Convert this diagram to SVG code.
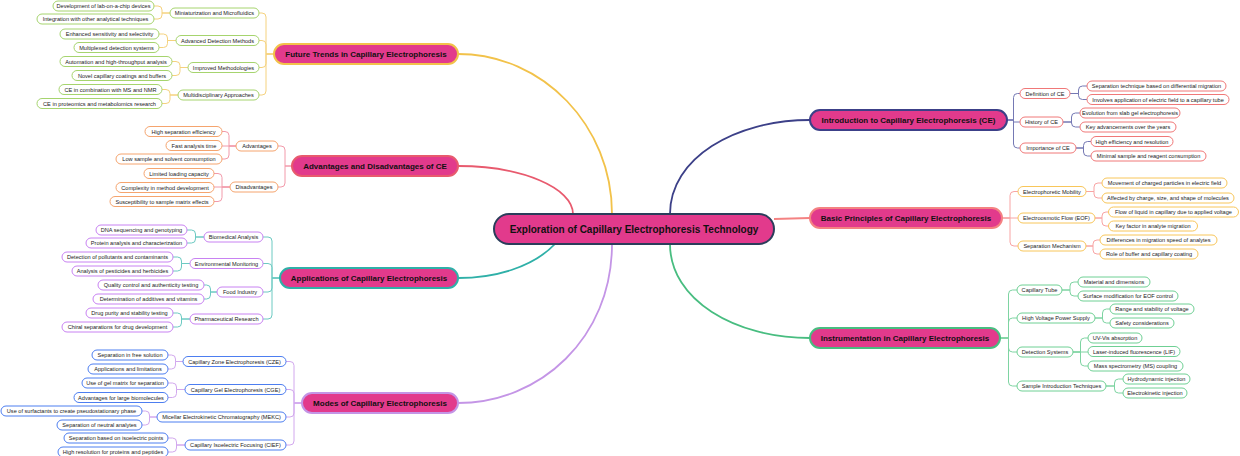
<svg xmlns="http://www.w3.org/2000/svg" width="1240" height="456" viewBox="0 0 1240 456">
<style>
text{font-family:"Liberation Sans",Arial,sans-serif;text-anchor:middle;fill:#222}
.s text{font-size:5.6px}
.s rect{fill:#fff;stroke-width:1}
.m rect{fill:#e23a8c;stroke-width:2}
.m text{font-size:8px;font-weight:bold;fill:#111}
.c rect{fill:#e23a8c;stroke:#2b3d5b;stroke-width:2}
.c text{font-size:10px;font-weight:bold;fill:#111}
.ft rect{stroke:#a6d46e}
.ad rect{stroke:#f5a46e}
.ap rect{stroke:#c882f2}
.mo rect{stroke:#4d7ef0}
.in rect{stroke:#f07878}
.bp rect{stroke:#f8c65a}
.is rect{stroke:#6fd094}
path{fill:none}
.k1{stroke-width:1.8}
.k2{stroke-width:1}
</style>
<g id="connectors">
<path class="k1" stroke="#f2c24a" d="M612,214 C612,126 543,54 458,54"/>
<path class="k1" stroke="#e85a6e" d="M573,214 C573,188 522,166 458,166"/>
<path class="k1" stroke="#2fb0a8" d="M555,244 C532,268 494,278 458,278"/>
<path class="k1" stroke="#c495e6" d="M612,244 C612,338 540,403 458,403"/>
<path class="k1" stroke="#3c4088" d="M670,214 C670,158 735,120 810,120"/>
<path class="k1" stroke="#f48282" d="M774,219 L810,218"/>
<path class="k1" stroke="#48bd80" d="M670,244 C670,300 735,338 810,338"/>
<g stroke="#f5d27e" class="k2">
<path d="M274,54 H266 V17 Q266,13 262,13 H259"/>
<path d="M274,54 H266 V44.5 Q266,40.5 262,40.5 H259"/>
<path d="M274,54 H266 V63.5 Q266,67.5 262,67.5 H259"/>
<path d="M274,54 H266 V91 Q266,95 262,95 H259"/>
<path d="M170,13 H162 V10 Q162,6 158,6 H154"/>
<path d="M170,13 H162 V15 Q162,19 158,19 H154"/>
<path d="M176,40.5 H167.5 V38 Q167.5,34 163.5,34 H159"/>
<path d="M176,40.5 H167.5 V43.5 Q167.5,47.5 163.5,47.5 H159"/>
<path d="M188,67.5 H180 V65.5 Q180,61.5 176,61.5 H172"/>
<path d="M188,67.5 H180 V71.5 Q180,75.5 176,75.5 H172"/>
<path d="M178,95 H170 V93.5 Q170,89.5 166,89.5 H162"/>
<path d="M178,95 H170 V99.5 Q170,103.5 166,103.5 H162"/>
</g>
<g stroke="#f29aaa" class="k2">
<path d="M292,166 H285 V150 Q285,146 281,146 H278"/>
<path d="M292,166 H285 V183 Q285,187 281,187 H278"/>
<path d="M236,146 H229 V135.5 Q229,131.5 225,131.5 H222"/>
<path d="M236,146 H222"/>
<path d="M236,146 H229 V155 Q229,159 225,159 H222"/>
<path d="M230,187 H222 V177.5 Q222,173.5 218,173.5 H214"/>
<path d="M230,187 H214"/>
<path d="M230,187 H222 V197.5 Q222,201.5 218,201.5 H214"/>
</g>
<g stroke="#6ccac2" class="k2">
<path d="M280,278 H272 V241 Q272,237 268,237 H263"/>
<path d="M280,278 H272 V267.5 Q272,263.5 268,263.5 H263"/>
<path d="M280,278 H272 V288 Q272,292 268,292 H263"/>
<path d="M280,278 H272 V315 Q272,319 268,319 H263"/>
<path d="M204,237 H195.5 V234 Q195.5,230 191.5,230 H187"/>
<path d="M204,237 H195.5 V239 Q195.5,243 191.5,243 H187"/>
<path d="M190,263.5 H181.5 V261 Q181.5,257 177.5,257 H173"/>
<path d="M190,263.5 H181.5 V267 Q181.5,271 177.5,271 H173"/>
<path d="M217,292 H210.5 V289 Q210.5,285 206.5,285 H204"/>
<path d="M217,292 H210.5 V295 Q210.5,299 206.5,299 H204"/>
<path d="M190,319 H181.5 V317 Q181.5,313 177.5,313 H173"/>
<path d="M190,319 H181.5 V323 Q181.5,327 177.5,327 H173"/>
</g>
<g stroke="#d2a8ee" class="k2">
<path d="M302,403 H294 V365.5 Q294,361.5 290,361.5 H286"/>
<path d="M302,403 H294 V393.5 Q294,389.5 290,389.5 H286"/>
<path d="M302,403 H294 V413 Q294,417 290,417 H286"/>
<path d="M302,403 H294 V441 Q294,445 290,445 H286"/>
<path d="M183,361.5 H175.5 V359 Q175.5,355 171.5,355 H168"/>
<path d="M183,361.5 H175.5 V365 Q175.5,369 171.5,369 H168"/>
<path d="M185,389.5 H176.5 V387 Q176.5,383 172.5,383 H168"/>
<path d="M185,389.5 H176.5 V393.5 Q176.5,397.5 172.5,397.5 H168"/>
<path d="M157,417 H149.5 V415 Q149.5,411 145.5,411 H142"/>
<path d="M157,417 H149.5 V421 Q149.5,425 145.5,425 H142"/>
<path d="M185,445 H176.5 V442 Q176.5,438 172.5,438 H168"/>
<path d="M185,445 H176.5 V448 Q176.5,452 172.5,452 H168"/>
</g>
<g stroke="#7579b4" class="k2">
<path d="M1007,120 H1013.5 V97.5 Q1013.5,93.5 1017.5,93.5 H1020"/>
<path d="M1007,120 H1013.5 V122 H1020"/>
<path d="M1007,120 H1013.5 V144 Q1013.5,148 1017.5,148 H1020"/>
<path d="M1070,93.5 H1078.5 V90 Q1078.5,86 1082.5,86 H1087"/>
<path d="M1070,93.5 H1078.5 V95.5 Q1078.5,99.5 1082.5,99.5 H1087"/>
<path d="M1063,122 H1071.5 V117 Q1071.5,113 1075.5,113 H1080"/>
<path d="M1063,122 H1071.5 V123 Q1071.5,127 1075.5,127 H1080"/>
<path d="M1076,148 H1083.5 V145.5 Q1083.5,141.5 1087.5,141.5 H1091"/>
<path d="M1076,148 H1083.5 V152 Q1083.5,156 1087.5,156 H1091"/>
</g>
<g stroke="#f8a4a4" class="k2">
<path d="M1002,218 H1010 V195.5 Q1010,191.5 1014,191.5 H1018"/>
<path d="M1002,218 H1018"/>
<path d="M1002,218 H1010 V242 Q1010,246 1014,246 H1018"/>
<path d="M1086,191.5 H1094 V187 Q1094,183 1098,183 H1102"/>
<path d="M1086,191.5 H1094 V194 Q1094,198 1098,198 H1102"/>
<path d="M1095,218 H1102 V216 Q1102,212 1106,212 H1108.5"/>
<path d="M1095,218 H1102 V222 Q1102,226 1106,226 H1108.5"/>
<path d="M1086,246 H1093 V244 Q1093,240 1097,240 H1100"/>
<path d="M1086,246 H1093 V250 Q1093,254 1097,254 H1100"/>
</g>
<g stroke="#7ed4a2" class="k2">
<path d="M1000,338 H1008.5 V294 Q1008.5,290 1012.5,290 H1017"/>
<path d="M1000,338 H1008.5 V322 Q1008.5,318 1012.5,318 H1017"/>
<path d="M1000,338 H1008.5 V348 Q1008.5,352 1012.5,352 H1017"/>
<path d="M1000,338 H1008.5 V382 Q1008.5,386 1012.5,386 H1017"/>
<path d="M1062,290 H1070 V286 Q1070,282 1074,282 H1078"/>
<path d="M1062,290 H1070 V292 Q1070,296 1074,296 H1078"/>
<path d="M1095,318 H1102.5 V313 Q1102.5,309 1106.5,309 H1110"/>
<path d="M1095,318 H1102.5 V319 Q1102.5,323 1106.5,323 H1110"/>
<path d="M1073,352 H1080.5 V342 Q1080.5,338 1084.5,338 H1088"/>
<path d="M1073,352 H1088"/>
<path d="M1073,352 H1080.5 V362 Q1080.5,366 1084.5,366 H1088"/>
<path d="M1106,386 H1114.5 V383 Q1114.5,379 1118.5,379 H1123"/>
<path d="M1106,386 H1114.5 V389 Q1114.5,393 1118.5,393 H1123"/>
</g>
</g>

<g id="root" class="c"><rect x="494" y="214" width="280" height="30" rx="15"/><text x="634" y="232.5">Exploration of Capillary Electrophoresis Technology</text></g>

<g id="future" class="m"><rect x="274" y="44" width="184" height="20" rx="10" stroke="#f2c24a"/><text x="366" y="56.8">Future Trends in Capillary Electrophoresis</text></g>
<g id="advdis" class="m"><rect x="292" y="156" width="166" height="20" rx="10" stroke="#e85a6e"/><text x="375" y="168.8">Advantages and Disadvantages of CE</text></g>
<g id="apps" class="m"><rect x="280" y="268" width="178" height="20" rx="10" stroke="#2fb0a8"/><text x="369" y="280.8">Applications of Capillary Electrophoresis</text></g>
<g id="modes" class="m"><rect x="302" y="393" width="156" height="20" rx="10" stroke="#c495e6"/><text x="380" y="405.8">Modes of Capillary Electrophoresis</text></g>
<g id="intro" class="m"><rect x="810" y="110" width="197" height="20" rx="10" stroke="#3c4088"/><text x="908.5" y="122.8">Introduction to Capillary Electrophoresis (CE)</text></g>
<g id="basic" class="m"><rect x="810" y="208" width="192" height="20" rx="10" stroke="#f48282"/><text x="906" y="220.8">Basic Principles of Capillary Electrophoresis</text></g>
<g id="instr" class="m"><rect x="810" y="328" width="190" height="20" rx="10" stroke="#48bd80"/><text x="905" y="340.8">Instrumentation in Capillary Electrophoresis</text></g>

<g class="s ft">
<g id="ft1"><rect x="170" y="8" width="89" height="10" rx="5"/><text x="214.5" y="15">Miniaturization and Microfluidics</text></g>
<g id="ft2"><rect x="176" y="35.5" width="83" height="10" rx="5"/><text x="217.5" y="42.5">Advanced Detection Methods</text></g>
<g id="ft3"><rect x="188" y="62.5" width="71" height="10" rx="5"/><text x="223.5" y="69.5">Improved Methodologies</text></g>
<g id="ft4"><rect x="178" y="90" width="81" height="10" rx="5"/><text x="218.5" y="97">Multidisciplinary Approaches</text></g>
<g id="ft1a"><rect x="53" y="1" width="101" height="10" rx="5"/><text x="103.5" y="8">Development of lab-on-a-chip devices</text></g>
<g id="ft1b"><rect x="37" y="14" width="117" height="10" rx="5"/><text x="95.5" y="21">Integration with other analytical techniques</text></g>
<g id="ft2a"><rect x="60" y="29" width="99" height="10" rx="5"/><text x="109.5" y="36">Enhanced sensitivity and selectivity</text></g>
<g id="ft2b"><rect x="74" y="42.5" width="85" height="10" rx="5"/><text x="116.5" y="49.5">Multiplexed detection systems</text></g>
<g id="ft3a"><rect x="60" y="56.5" width="112" height="10" rx="5"/><text x="116" y="63.5">Automation and high-throughput analysis</text></g>
<g id="ft3b"><rect x="72" y="70.5" width="100" height="10" rx="5"/><text x="122" y="77.5">Novel capillary coatings and buffers</text></g>
<g id="ft4a"><rect x="59" y="84.5" width="103" height="10" rx="5"/><text x="110.5" y="91.5">CE in combination with MS and NMR</text></g>
<g id="ft4b"><rect x="37" y="98.5" width="125" height="10" rx="5"/><text x="99.5" y="105.5">CE in proteomics and metabolomics research</text></g>
</g>

<g class="s ad">
<g id="ad1"><rect x="236" y="141" width="42" height="10" rx="5"/><text x="257" y="148">Advantages</text></g>
<g id="ad2"><rect x="230" y="182" width="48" height="10" rx="5"/><text x="254" y="189">Disadvantages</text></g>
<g id="ad1a"><rect x="145" y="126.5" width="77" height="10" rx="5"/><text x="183.5" y="133.5">High separation efficiency</text></g>
<g id="ad1b"><rect x="166" y="140.5" width="56" height="10" rx="5"/><text x="194" y="147.5">Fast analysis time</text></g>
<g id="ad1c"><rect x="116" y="154" width="106" height="10" rx="5"/><text x="169" y="161">Low sample and solvent consumption</text></g>
<g id="ad2a"><rect x="144" y="168.5" width="70" height="10" rx="5"/><text x="179" y="175.5">Limited loading capacity</text></g>
<g id="ad2b"><rect x="116" y="182.5" width="98" height="10" rx="5"/><text x="165" y="189.5">Complexity in method development</text></g>
<g id="ad2c"><rect x="110" y="196.5" width="104" height="10" rx="5"/><text x="162" y="203.5">Susceptibility to sample matrix effects</text></g>
</g>

<g class="s ap">
<g id="ap1"><rect x="204" y="232" width="59" height="10" rx="5"/><text x="233.5" y="239">Biomedical Analysis</text></g>
<g id="ap2"><rect x="190" y="258.5" width="73" height="10" rx="5"/><text x="226.5" y="265.5">Environmental Monitoring</text></g>
<g id="ap3"><rect x="217" y="287" width="46" height="10" rx="5"/><text x="240" y="294">Food Industry</text></g>
<g id="ap4"><rect x="190" y="314" width="73" height="10" rx="5"/><text x="226.5" y="321">Pharmaceutical Research</text></g>
<g id="ap1a"><rect x="96" y="225" width="91" height="10" rx="5"/><text x="141.5" y="232">DNA sequencing and genotyping</text></g>
<g id="ap1b"><rect x="86" y="238" width="101" height="10" rx="5"/><text x="136.5" y="245">Protein analysis and characterization</text></g>
<g id="ap2a"><rect x="62" y="252" width="111" height="10" rx="5"/><text x="117.5" y="259">Detection of pollutants and contaminants</text></g>
<g id="ap2b"><rect x="72" y="266" width="101" height="10" rx="5"/><text x="122.5" y="273">Analysis of pesticides and herbicides</text></g>
<g id="ap3a"><rect x="98" y="280" width="106" height="10" rx="5"/><text x="151" y="287">Quality control and authenticity testing</text></g>
<g id="ap3b"><rect x="93" y="294" width="111" height="10" rx="5"/><text x="148.5" y="301">Determination of additives and vitamins</text></g>
<g id="ap4a"><rect x="86" y="308" width="87" height="10" rx="5"/><text x="129.5" y="315">Drug purity and stability testing</text></g>
<g id="ap4b"><rect x="62" y="322" width="111" height="10" rx="5"/><text x="117.5" y="329">Chiral separations for drug development</text></g>
</g>

<g class="s mo">
<g id="mo1"><rect x="183" y="356.5" width="103" height="10" rx="5"/><text x="234.5" y="363.5">Capillary Zone Electrophoresis (CZE)</text></g>
<g id="mo2"><rect x="185" y="384.5" width="101" height="10" rx="5"/><text x="235.5" y="391.5">Capillary Gel Electrophoresis (CGE)</text></g>
<g id="mo3"><rect x="157" y="412" width="129" height="10" rx="5"/><text x="221.5" y="419">Micellar Electrokinetic Chromatography (MEKC)</text></g>
<g id="mo4"><rect x="185" y="440" width="101" height="10" rx="5"/><text x="235.5" y="447">Capillary Isoelectric Focusing (CIEF)</text></g>
<g id="mo1a"><rect x="92" y="350" width="76" height="10" rx="5"/><text x="130" y="357">Separation in free solution</text></g>
<g id="mo1b"><rect x="88" y="364" width="80" height="10" rx="5"/><text x="128" y="371">Applications and limitations</text></g>
<g id="mo2a"><rect x="82" y="378" width="86" height="10" rx="5"/><text x="125" y="385">Use of gel matrix for separation</text></g>
<g id="mo2b"><rect x="74" y="392.5" width="94" height="10" rx="5"/><text x="121" y="399.5">Advantages for large biomolecules</text></g>
<g id="mo3a"><rect x="1" y="406" width="141" height="10" rx="5"/><text x="71.5" y="413">Use of surfactants to create pseudostationary phase</text></g>
<g id="mo3b"><rect x="57" y="420" width="85" height="10" rx="5"/><text x="99.5" y="427">Separation of neutral analytes</text></g>
<g id="mo4a"><rect x="64" y="433" width="104" height="10" rx="5"/><text x="116" y="440">Separation based on isoelectric points</text></g>
<g id="mo4b"><rect x="58" y="447" width="110" height="10" rx="5"/><text x="113" y="454">High resolution for proteins and peptides</text></g>
</g>

<g class="s in">
<g id="in1"><rect x="1020" y="88.5" width="50" height="10" rx="5"/><text x="1045" y="95.5">Definition of CE</text></g>
<g id="in2"><rect x="1020" y="117" width="43" height="10" rx="5"/><text x="1041.5" y="124">History of CE</text></g>
<g id="in3"><rect x="1020" y="143" width="56" height="10" rx="5"/><text x="1048" y="150">Importance of CE</text></g>
<g id="in1a"><rect x="1087" y="81" width="139" height="10" rx="5"/><text x="1156.5" y="88">Separation technique based on differential migration</text></g>
<g id="in1b"><rect x="1087" y="94.5" width="142" height="10" rx="5"/><text x="1158" y="101.5">Involves application of electric field to a capillary tube</text></g>
<g id="in2a"><rect x="1080" y="108" width="100" height="10" rx="5"/><text x="1130" y="115">Evolution from slab gel electrophoresis</text></g>
<g id="in2b"><rect x="1080" y="122" width="96" height="10" rx="5"/><text x="1128" y="129">Key advancements over the years</text></g>
<g id="in3a"><rect x="1091" y="136.5" width="82" height="10" rx="5"/><text x="1132" y="143.5">High efficiency and resolution</text></g>
<g id="in3b"><rect x="1091" y="151" width="115" height="10" rx="5"/><text x="1148.5" y="158">Minimal sample and reagent consumption</text></g>
</g>

<g class="s bp">
<g id="bp1"><rect x="1018" y="186.5" width="68" height="10" rx="5"/><text x="1052" y="193.5">Electrophoretic Mobility</text></g>
<g id="bp2"><rect x="1018" y="213" width="77" height="10" rx="5"/><text x="1056.5" y="220">Electroosmotic Flow (EOF)</text></g>
<g id="bp3"><rect x="1018" y="241" width="68" height="10" rx="5"/><text x="1052" y="248">Separation Mechanism</text></g>
<g id="bp1a"><rect x="1102" y="178" width="125" height="10" rx="5"/><text x="1164.5" y="185">Movement of charged particles in electric field</text></g>
<g id="bp1b"><rect x="1102" y="193" width="132" height="10" rx="5"/><text x="1168" y="200">Affected by charge, size, and shape of molecules</text></g>
<g id="bp2a"><rect x="1108.5" y="207" width="130" height="10" rx="5"/><text x="1173.5" y="214">Flow of liquid in capillary due to applied voltage</text></g>
<g id="bp2b"><rect x="1108.5" y="221" width="89" height="10" rx="5"/><text x="1153" y="228">Key factor in analyte migration</text></g>
<g id="bp3a"><rect x="1100" y="235" width="117" height="10" rx="5"/><text x="1158.5" y="242">Differences in migration speed of analytes</text></g>
<g id="bp3b"><rect x="1100" y="249" width="98" height="10" rx="5"/><text x="1149" y="256">Role of buffer and capillary coating</text></g>
</g>

<g class="s is">
<g id="is1"><rect x="1017" y="285" width="45" height="10" rx="5"/><text x="1039.5" y="292">Capillary Tube</text></g>
<g id="is2"><rect x="1017" y="313" width="78" height="10" rx="5"/><text x="1056" y="320">High Voltage Power Supply</text></g>
<g id="is3"><rect x="1017" y="347" width="56" height="10" rx="5"/><text x="1045" y="354">Detection Systems</text></g>
<g id="is4"><rect x="1017" y="381" width="89" height="10" rx="5"/><text x="1061.5" y="388">Sample Introduction Techniques</text></g>
<g id="is1a"><rect x="1078" y="277" width="72" height="10" rx="5"/><text x="1114" y="284">Material and dimensions</text></g>
<g id="is1b"><rect x="1078" y="291" width="100" height="10" rx="5"/><text x="1128" y="298">Surface modification for EOF control</text></g>
<g id="is2a"><rect x="1110" y="304" width="84" height="10" rx="5"/><text x="1152" y="311">Range and stability of voltage</text></g>
<g id="is2b"><rect x="1110" y="318" width="64" height="10" rx="5"/><text x="1142" y="325">Safety considerations</text></g>
<g id="is3a"><rect x="1088" y="333" width="54" height="10" rx="5"/><text x="1115" y="340">UV-Vis absorption</text></g>
<g id="is3b"><rect x="1088" y="346.5" width="92" height="10" rx="5"/><text x="1134" y="353.5">Laser-induced fluorescence (LIF)</text></g>
<g id="is3c"><rect x="1088" y="361" width="95" height="10" rx="5"/><text x="1135.5" y="368">Mass spectrometry (MS) coupling</text></g>
<g id="is4a"><rect x="1123" y="374" width="67" height="10" rx="5"/><text x="1156.5" y="381">Hydrodynamic injection</text></g>
<g id="is4b"><rect x="1123" y="388" width="64" height="10" rx="5"/><text x="1155" y="395">Electrokinetic injection</text></g>
</g>
</svg>
